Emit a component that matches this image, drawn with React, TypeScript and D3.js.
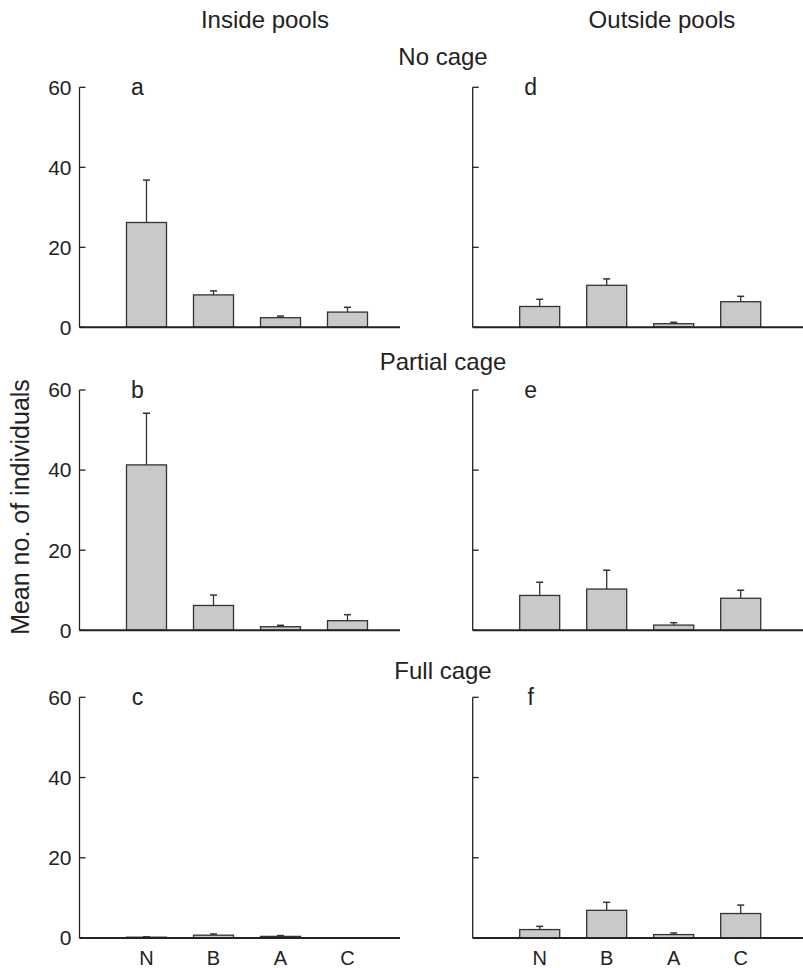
import React from "react";
import * as d3 from "d3";

const categories = ["N", "B", "A", "C"];
const yTicks = [0, 20, 40, 60];
const columnTitles = ["Inside pools", "Outside pools"];
const rowTitles = ["No cage", "Partial cage", "Full cage"];
const panelLetters = [["a", "d"], ["b", "e"], ["c", "f"]];

const insideNoCage = [26.2, 8.1, 2.4, 3.8];
const insideNoCageSE = [10.6, 1.0, 0.4, 1.2];
const outsideNoCage = [5.2, 10.5, 0.9, 6.4];
const outsideNoCageSE = [1.8, 1.6, 0.35, 1.35];
const insidePartial = [41.3, 6.2, 0.9, 2.4];
const insidePartialSE = [12.9, 2.6, 0.35, 1.5];
const outsidePartial = [8.7, 10.3, 1.3, 8.0];
const outsidePartialSE = [3.3, 4.7, 0.6, 2.0];
const insideFull = [0.2, 0.7, 0.4, 0.05];
const insideFullSE = [0.1, 0.3, 0.2, 0];
const outsideFull = [2.1, 6.9, 0.85, 6.1];
const outsideFullSE = [0.8, 2.0, 0.4, 2.1];

const panels = [
  [
    { mean: insideNoCage, se: insideNoCageSE },
    { mean: outsideNoCage, se: outsideNoCageSE },
  ],
  [
    { mean: insidePartial, se: insidePartialSE },
    { mean: outsidePartial, se: outsidePartialSE },
  ],
  [
    { mean: insideFull, se: insideFullSE },
    { mean: outsideFull, se: outsideFullSE },
  ],
];

const W = 803;
const H = 968;
const FONT = "'Liberation Sans', Arial, Helvetica, sans-serif";
const INK = "#222";
const colAxisX = [79.5, 472.7];
const colXEnd = [400, 803];
const rowTop = [87.3, 390, 697.3];
const rowBase = [327.3, 630.3, 938];
const step = 67;
const barW = 40;

function Panel({ row, col }: { row: number; col: number }) {
  const data = panels[row][col];
  const ax = colAxisX[col];
  const x = d3.scaleLinear().domain([0, 1]).range([ax, ax + step]);
  const y = d3.scaleLinear().domain([0, 60]).range([rowBase[row], rowTop[row]]);
  return (
    <g>
      {categories.map((c, i) => {
        const cx = x(i + 1);
        const top = y(data.mean[i]);
        const errTop = y(data.mean[i] + data.se[i]);
        return (
          <g key={c}>
            {data.se[i] > 0 && (
              <>
                <line x1={cx} x2={cx} y1={top} y2={errTop} stroke="#333" strokeWidth={1.3} />
                <line x1={cx - 3.5} x2={cx + 3.5} y1={errTop} y2={errTop} stroke="#333" strokeWidth={1.5} />
              </>
            )}
            <rect
              x={cx - barW / 2}
              y={top}
              width={barW}
              height={Math.max(0, y(0) - top)}
              fill="#c8c9cb"
              stroke="#333"
              strokeWidth={1.3}
            />
          </g>
        );
      })}
      <line x1={ax} x2={ax} y1={y(60)} y2={y(0)} stroke={INK} strokeWidth={1.3} />
      {yTicks.map((t) => (
        <g key={t}>
          <line x1={ax} x2={ax + 6} y1={y(t)} y2={y(t)} stroke={INK} strokeWidth={1.3} />
          {col === 0 && (
            <text
              x={ax - 8}
              y={y(t)}
              dy="0.35em"
              textAnchor="end"
              fontSize={21}
              fontFamily={FONT}
              fill={INK}
            >
              {t}
            </text>
          )}
        </g>
      ))}
      <line x1={ax} x2={colXEnd[col]} y1={y(0)} y2={y(0)} stroke={INK} strokeWidth={2} />
      <text
        x={ax + 58}
        y={y(60)}
        dy="0.35em"
        textAnchor="middle"
        fontSize={23}
        fontFamily={FONT}
        fill={INK}
      >
        {panelLetters[row][col]}
      </text>
      {row === 2 &&
        categories.map((c, i) => (
          <text
            key={c}
            x={x(i + 1)}
            y={965}
            textAnchor="middle"
            fontSize={20}
            fontFamily={FONT}
            fill={INK}
          >
            {c}
          </text>
        ))}
    </g>
  );
}

export default function App() {
  const rowTitleY = [57, 362, 671];
  const colTitleX = [265, 662];
  return (
    <svg
      width={W}
      height={H}
      style={{ position: "absolute", left: 0, top: 0, background: "#fff" }}
    >
      <rect width={W} height={H} fill="#fff" />
      {columnTitles.map((t, i) => (
        <text
          key={t}
          x={colTitleX[i]}
          y={20}
          dy="0.35em"
          textAnchor="middle"
          fontSize={24}
          fontFamily={FONT}
          fill={INK}
        >
          {t}
        </text>
      ))}
      {rowTitles.map((t, i) => (
        <text
          key={t}
          x={443}
          y={rowTitleY[i]}
          dy="0.35em"
          textAnchor="middle"
          fontSize={24}
          fontFamily={FONT}
          fill={INK}
        >
          {t}
        </text>
      ))}
      <text
        transform={`translate(20,${507}) rotate(-90)`}
        dy="0.35em"
        textAnchor="middle"
        fontSize={25}
        fontFamily={FONT}
        fill={INK}
      >
        Mean no. of individuals
      </text>
      {[0, 1, 2].map((r) => [0, 1].map((c) => <Panel key={`${r}-${c}`} row={r} col={c} />))}
    </svg>
  );
}
